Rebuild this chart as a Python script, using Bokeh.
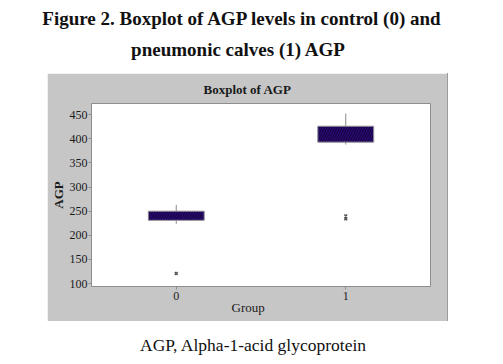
from bokeh.plotting import figure
from bokeh.layouts import column, row
from bokeh.models import Spacer, Label, FixedTicker, Range1d, Title
from bokeh.embed import file_html
from bokeh.resources import INLINE

# ---------------- data ----------------
groups = [0, 1]
q1 = [231, 393]
q3 = [250, 426]
whisker_low = [224, 388]
whisker_high = [263, 452]
outlier_group = [0, 1, 1]
outlier_value = [121, 240, 234]
y_ticks = [100, 150, 200, 250, 300, 350, 400, 450]
x_tick_labels = {0: "0", 1: "1"}

title_lines = ["Figure 2. Boxplot of AGP levels in control (0) and",
               "pneumonic calves (1) AGP"]
chart_title = "Boxplot of AGP"
caption_text = "AGP, Alpha-1-acid glycoprotein"
x_label = "Group"
y_label = "AGP"

SERIF = "Liberation Serif"
PANEL = "#c6c6c6"
TXT = "#1a1a1a"

# ---------------- header ----------------
head = figure(width=495, height=73, x_range=Range1d(0, 495), y_range=Range1d(0, 73),
              toolbar_location=None, output_backend="svg", min_border=0)
head.axis.visible = False
head.grid.visible = False
head.outline_line_color = None
head.add_layout(Label(x=242, y=55, text=title_lines[0], text_align="center",
                      text_baseline="alphabetic", text_font=SERIF, text_font_style="bold",
                      text_font_size="19px", text_color="#111111"))
head.add_layout(Label(x=238, y=24, text=title_lines[1], text_align="center",
                      text_baseline="alphabetic", text_font=SERIF, text_font_style="bold",
                      text_font_size="19px", text_color="#111111"))

# ---------------- chart ----------------
p = figure(width=400, height=248, x_range=Range1d(-0.5, 1.5), y_range=Range1d(94, 473),
           toolbar_location=None, output_backend="svg",
           min_border_left=44, min_border_right=17, min_border_top=30, min_border_bottom=35)
p.border_fill_color = PANEL
p.background_fill_color = "white"
p.outline_line_color = "#8e8e8e"
p.grid.visible = False

p.title.text = chart_title
p.title.align = "left"
p.title.offset = 112
p.title.standoff = 13
p.title.text_font = SERIF
p.title.text_font_style = "bold"
p.title.text_font_size = "13px"
p.title.text_color = TXT

# whiskers
p.segment(x0=groups, y0=q3, x1=groups, y1=whisker_high, line_color="#8a8a8a", line_width=1)
p.segment(x0=groups, y0=q1, x1=groups, y1=whisker_low, line_color="#8a8a8a", line_width=1)
# boxes
p.vbar(x=groups, width=0.33, bottom=q1, top=q3, fill_color="#2c0a78",
       line_color="#9a9a9a", line_width=1, hatch_pattern="/", hatch_color="#140340",
       hatch_scale=5, hatch_weight=1.2)
# outliers
p.scatter(x=outlier_group, y=outlier_value, marker="x", size=4, line_color="#555555",
          line_width=1.5)

# axes
for ax in (p.xaxis, p.yaxis):
    ax.axis_line_color = "#8e8e8e"
    ax.major_tick_line_color = "#8e8e8e"
    ax.minor_tick_line_color = None
    ax.major_tick_in = 0
    ax.major_tick_out = 3
    ax.major_label_text_font = SERIF
    ax.major_label_text_font_size = "12px"
    ax.major_label_text_color = TXT
    ax.axis_label_text_font = SERIF
    ax.axis_label_text_color = TXT

p.yaxis.ticker = FixedTicker(ticks=y_ticks)
p.yaxis.major_label_standoff = 1
p.yaxis.axis_label = y_label
p.yaxis.axis_label_text_font_style = "bold"
p.yaxis.axis_label_text_font_size = "13px"
p.yaxis.axis_label_text_line_height = 1.0
p.yaxis.axis_label_standoff = 1

p.xaxis.ticker = FixedTicker(ticks=groups)
p.xaxis.major_label_overrides = x_tick_labels
p.xaxis.major_label_standoff = 2

# x-axis title below the axis, positioned like the reference
p.add_layout(Title(text=x_label, align="left", offset=140, standoff=-9,
                   text_font=SERIF, text_font_style="normal", text_font_size="13px",
                   text_color=TXT), "below")

# ---------------- caption ----------------
cap = figure(width=495, height=40, x_range=Range1d(0, 495), y_range=Range1d(0, 40),
             toolbar_location=None, output_backend="svg", min_border=0)
cap.axis.visible = False
cap.grid.visible = False
cap.outline_line_color = None
cap.add_layout(Label(x=253, y=17, text=caption_text, text_align="center",
                     text_baseline="alphabetic", text_font=SERIF, text_font_size="17.5px",
                     text_color="#111111"))

layout = column(head,
                row(Spacer(width=47, height=248), p,
                    Spacer(width=1, height=248, styles={"background-color": "#9c9c9c"})),
                cap)

open("out.html", "w").write(file_html(layout, INLINE))
